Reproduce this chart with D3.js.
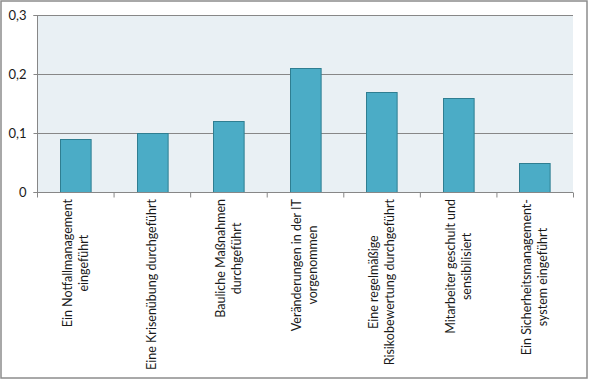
<!DOCTYPE html>
<html><head><meta charset="utf-8">
<script src="https://cdn.jsdelivr.net/npm/d3@7/dist/d3.min.js"></script>
<style>body{margin:0;background:#fff}svg{display:block}text{font-family:Lato,"Open Sans",sans-serif;fill:#1a1a1a}</style>
</head><body><svg id="c" width="589" height="379"></svg>
<script>
const categories = [
  ["Ein Notfallmanagement", "eingeführt"],
  ["Eine Krisenübung durchgeführt"],
  ["Bauliche Maßnahmen", "durchgeführt"],
  ["Veränderungen in der IT", "vorgenommen"],
  ["Eine regelmäßige", "Risikobewertung durchgeführt"],
  ["Mitarbeiter geschult und", "sensibilisiert"],
  ["Ein Sicherheitsmanagement-", "system eingeführt"]
];
const values = [0.09, 0.10, 0.12, 0.21, 0.17, 0.16, 0.05];
const yTicks = [0, 0.1, 0.2, 0.3];
const yTickLabels = ["0", "0,1", "0,2", "0,3"];

const svg = d3.select("#c");
const m = {l: 37, r: 573, t: 15, b: 192};
const x = d3.scaleBand().domain(d3.range(categories.length)).range([m.l, m.r]).paddingInner(0.6).paddingOuter(0.3);
const xb = d3.scaleLinear().domain([0, categories.length]).range([m.l, m.r]);
const y = d3.scaleLinear().domain([0, 0.3]).range([m.b, m.t]);

svg.append("rect").attr("x", 1).attr("y", 1).attr("width", 586).attr("height", 377)
  .attr("fill", "#fff").attr("stroke", "#8c8c8c").attr("stroke-width", 1.5);

svg.append("rect").attr("x", m.l).attr("y", m.t).attr("width", m.r - m.l).attr("height", m.b - m.t)
  .attr("fill", "#e9f0f4");

// gridlines
svg.append("g").selectAll("line").data(yTicks.slice(1)).join("line")
  .attr("x1", m.l).attr("x2", m.r).attr("y1", d => Math.round(y(d)) + 0.5).attr("y2", d => Math.round(y(d)) + 0.5)
  .attr("stroke", "#878787").attr("stroke-width", 1);

// bars
svg.append("g").selectAll("rect").data(values).join("rect")
  .attr("x", (d, i) => Math.round(x(i)) + 0.5)
  .attr("y", d => Math.round(y(d)) + 0.5)
  .attr("width", x.bandwidth())
  .attr("height", d => Math.round(y(0)) - Math.round(y(d)))
  .attr("fill", "#4bacc6").attr("stroke", "#2f7e91").attr("stroke-width", 1);

// y axis
const ya = svg.append("g").attr("transform", `translate(${m.l + 0.5},0)`)
  .call(d3.axisLeft(y).tickValues(yTicks).tickFormat((d, i) => yTickLabels[i]).tickSize(4).tickPadding(7));
ya.select(".domain").attr("stroke", "#878787").attr("d", `M-4,${m.t + 0.5}H0V${m.b + 0.5}H-4`);
ya.selectAll(".tick line").attr("stroke", "#878787");
ya.selectAll(".tick text").style("font-size", "13px").attr("fill", "#1a1a1a").style("font-family", "Lato");

// x axis
const xa = svg.append("g").attr("transform", `translate(0,${Math.round(m.b) + 0.5})`)
  .call(d3.axisBottom(xb).tickValues(d3.range(categories.length + 1)).tickFormat("").tickSize(5));
xa.select(".domain").attr("stroke", "#878787").attr("d", `M${m.l},0H${m.r}`);
xa.selectAll(".tick line").attr("stroke", "#878787");

// category labels
const fs = 12.5, lh = 16;
const lg = svg.append("g");
categories.forEach((lines, i) => {
  const cx = x(i) + x.bandwidth() / 2;
  const t = lg.append("text").attr("text-anchor", "middle").style("font-size", fs + "px");
  lines.forEach((ln, j) => {
    t.append("tspan").attr("x", 0).attr("dy", j === 0 ? 0 : lh).text(ln);
  });
  let w = 0;
  t.selectAll("tspan").each(function() { w = Math.max(w, this.getComputedTextLength()); });
  const n = lines.length;
  const off = -(n - 1) * lh / 2 + fs * 0.35;
  t.attr("transform", `translate(${cx + off},${199 + w / 2}) rotate(-90)`);
  // shift so block centered on cx: baseline of first line at cx - (n-1)*lh/2 + ~0.35em
});
</script></body></html>
